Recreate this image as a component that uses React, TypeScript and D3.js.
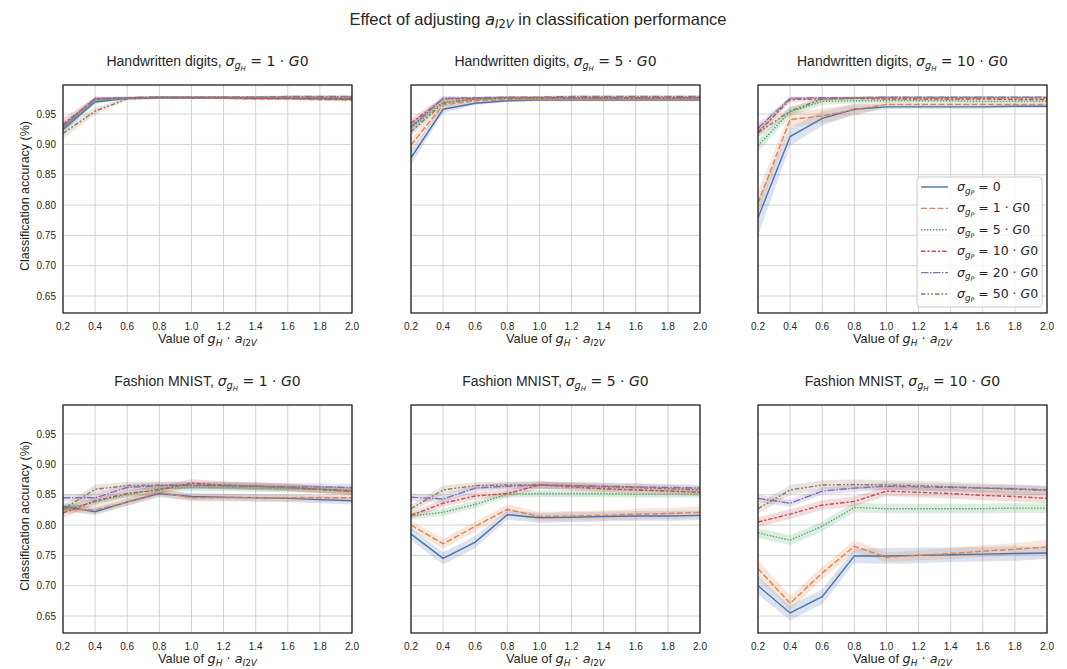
import * as d3 from "d3";
import { useEffect, useRef } from "react";

// x: value of g_H * a_I2V
const xValues = [0.2, 0.4, 0.6, 0.8, 1.0, 1.2, 1.4, 1.6, 1.8, 2.0];
const xTicks = [0.2, 0.4, 0.6, 0.8, 1.0, 1.2, 1.4, 1.6, 1.8, 2.0];
const yTicks = [0.65, 0.7, 0.75, 0.8, 0.85, 0.9, 0.95];
// sigma_gP levels (legend), same order as the series rows below
const gpLevels = ["0", "1", "5", "10", "20", "50"];
const colors = ["#4c72b0", "#dd8452", "#55a868", "#c44e52", "#8172b3", "#937860"];
const dashes = ["", "6,2.25", "1.5,1.5", "4.5,1.9,2.25,1.9", "7.5,1.5,1.5,1.5", "4.5,1.9,1.9,1.9,1.9,1.9"];

// Handwritten digits, sigma_gH = 1 G0
const hd1Mean = [
  [0.925, 0.970, 0.976, 0.977, 0.977, 0.977, 0.976, 0.976, 0.976, 0.975],
  [0.928, 0.974, 0.976, 0.977, 0.977, 0.976, 0.975, 0.975, 0.974, 0.973],
  [0.927, 0.972, 0.976, 0.977, 0.977, 0.977, 0.977, 0.976, 0.976, 0.976],
  [0.933, 0.975, 0.977, 0.978, 0.977, 0.977, 0.976, 0.976, 0.975, 0.975],
  [0.930, 0.976, 0.977, 0.978, 0.978, 0.978, 0.978, 0.979, 0.979, 0.979],
  [0.918, 0.955, 0.975, 0.977, 0.978, 0.978, 0.978, 0.978, 0.978, 0.978],
];
const hd1Ci = [
  [0.006, 0.003, 0.002, 0.002, 0.002, 0.002, 0.002, 0.002, 0.002, 0.002],
  [0.006, 0.003, 0.002, 0.002, 0.002, 0.002, 0.002, 0.002, 0.002, 0.002],
  [0.006, 0.003, 0.002, 0.002, 0.002, 0.002, 0.002, 0.002, 0.002, 0.002],
  [0.010, 0.003, 0.002, 0.002, 0.002, 0.002, 0.002, 0.002, 0.002, 0.002],
  [0.007, 0.003, 0.002, 0.002, 0.002, 0.002, 0.002, 0.002, 0.002, 0.002],
  [0.008, 0.006, 0.002, 0.002, 0.002, 0.002, 0.002, 0.002, 0.002, 0.002],
];

// Handwritten digits, sigma_gH = 5 G0
const hd5Mean = [
  [0.878, 0.958, 0.968, 0.972, 0.973, 0.973, 0.973, 0.973, 0.973, 0.973],
  [0.899, 0.965, 0.972, 0.974, 0.974, 0.974, 0.974, 0.974, 0.974, 0.974],
  [0.927, 0.970, 0.974, 0.976, 0.976, 0.976, 0.976, 0.976, 0.976, 0.976],
  [0.935, 0.975, 0.976, 0.977, 0.977, 0.977, 0.977, 0.977, 0.977, 0.977],
  [0.929, 0.976, 0.977, 0.978, 0.978, 0.979, 0.979, 0.979, 0.979, 0.979],
  [0.921, 0.968, 0.975, 0.977, 0.977, 0.977, 0.977, 0.977, 0.977, 0.977],
];
const hd5Ci = [
  [0.012, 0.006, 0.003, 0.002, 0.002, 0.002, 0.002, 0.002, 0.002, 0.002],
  [0.010, 0.005, 0.003, 0.002, 0.002, 0.002, 0.002, 0.002, 0.002, 0.002],
  [0.008, 0.004, 0.002, 0.002, 0.002, 0.002, 0.002, 0.002, 0.002, 0.002],
  [0.008, 0.004, 0.002, 0.002, 0.002, 0.002, 0.002, 0.002, 0.002, 0.002],
  [0.008, 0.004, 0.002, 0.002, 0.002, 0.002, 0.002, 0.002, 0.002, 0.002],
  [0.008, 0.004, 0.002, 0.002, 0.002, 0.002, 0.002, 0.002, 0.002, 0.002],
];

// Handwritten digits, sigma_gH = 10 G0
const hd10Mean = [
  [0.779, 0.913, 0.943, 0.958, 0.962, 0.962, 0.962, 0.962, 0.963, 0.963],
  [0.803, 0.941, 0.947, 0.957, 0.966, 0.966, 0.966, 0.966, 0.966, 0.966],
  [0.898, 0.954, 0.971, 0.972, 0.972, 0.972, 0.972, 0.971, 0.971, 0.971],
  [0.920, 0.974, 0.975, 0.976, 0.975, 0.975, 0.975, 0.975, 0.974, 0.974],
  [0.927, 0.976, 0.977, 0.977, 0.978, 0.978, 0.978, 0.978, 0.978, 0.978],
  [0.919, 0.955, 0.975, 0.977, 0.977, 0.977, 0.977, 0.977, 0.977, 0.977],
];
const hd10Ci = [
  [0.030, 0.015, 0.012, 0.008, 0.004, 0.003, 0.003, 0.003, 0.003, 0.003],
  [0.020, 0.012, 0.012, 0.010, 0.004, 0.003, 0.003, 0.003, 0.003, 0.003],
  [0.010, 0.008, 0.006, 0.004, 0.003, 0.003, 0.003, 0.003, 0.003, 0.003],
  [0.008, 0.004, 0.003, 0.002, 0.002, 0.002, 0.002, 0.002, 0.002, 0.002],
  [0.008, 0.003, 0.002, 0.002, 0.002, 0.002, 0.002, 0.002, 0.002, 0.002],
  [0.008, 0.006, 0.003, 0.002, 0.002, 0.002, 0.002, 0.002, 0.002, 0.002],
];

// Fashion MNIST, sigma_gH = 1 G0
const fm1Mean = [
  [0.831, 0.822, 0.838, 0.852, 0.847, 0.846, 0.845, 0.844, 0.842, 0.840],
  [0.826, 0.825, 0.838, 0.854, 0.845, 0.845, 0.845, 0.845, 0.845, 0.845],
  [0.826, 0.838, 0.850, 0.860, 0.862, 0.862, 0.861, 0.860, 0.859, 0.857],
  [0.820, 0.840, 0.852, 0.858, 0.869, 0.866, 0.864, 0.862, 0.859, 0.856],
  [0.845, 0.845, 0.862, 0.865, 0.865, 0.865, 0.864, 0.863, 0.863, 0.862],
  [0.826, 0.859, 0.865, 0.866, 0.866, 0.865, 0.864, 0.862, 0.859, 0.855],
];
const fm1Ci = [
  [0.006, 0.006, 0.006, 0.006, 0.006, 0.006, 0.006, 0.006, 0.006, 0.006],
  [0.006, 0.006, 0.006, 0.006, 0.006, 0.006, 0.006, 0.006, 0.006, 0.006],
  [0.006, 0.006, 0.006, 0.006, 0.006, 0.006, 0.006, 0.006, 0.006, 0.006],
  [0.008, 0.006, 0.006, 0.006, 0.007, 0.006, 0.006, 0.006, 0.006, 0.006],
  [0.006, 0.006, 0.006, 0.006, 0.006, 0.006, 0.006, 0.006, 0.006, 0.006],
  [0.006, 0.008, 0.006, 0.006, 0.006, 0.006, 0.006, 0.006, 0.006, 0.006],
];

// Fashion MNIST, sigma_gH = 5 G0
const fm5Mean = [
  [0.785, 0.745, 0.772, 0.817, 0.812, 0.813, 0.814, 0.815, 0.815, 0.816],
  [0.800, 0.769, 0.798, 0.826, 0.814, 0.815, 0.816, 0.818, 0.819, 0.821],
  [0.815, 0.821, 0.834, 0.851, 0.852, 0.852, 0.852, 0.851, 0.851, 0.851],
  [0.816, 0.836, 0.848, 0.852, 0.866, 0.863, 0.860, 0.858, 0.856, 0.854],
  [0.846, 0.843, 0.861, 0.864, 0.866, 0.865, 0.864, 0.863, 0.862, 0.861],
  [0.827, 0.858, 0.865, 0.866, 0.866, 0.865, 0.863, 0.862, 0.860, 0.858],
];
const fm5Ci = [
  [0.010, 0.010, 0.010, 0.008, 0.008, 0.008, 0.008, 0.008, 0.008, 0.008],
  [0.008, 0.008, 0.008, 0.008, 0.008, 0.008, 0.008, 0.009, 0.009, 0.010],
  [0.006, 0.006, 0.006, 0.006, 0.006, 0.006, 0.006, 0.006, 0.006, 0.006],
  [0.006, 0.006, 0.006, 0.006, 0.006, 0.006, 0.006, 0.006, 0.006, 0.006],
  [0.006, 0.006, 0.006, 0.006, 0.006, 0.006, 0.006, 0.006, 0.006, 0.006],
  [0.006, 0.007, 0.006, 0.006, 0.006, 0.006, 0.006, 0.006, 0.006, 0.006],
];

// Fashion MNIST, sigma_gH = 10 G0
const fm10Mean = [
  [0.700, 0.655, 0.682, 0.749, 0.749, 0.750, 0.751, 0.752, 0.753, 0.754],
  [0.728, 0.671, 0.721, 0.765, 0.747, 0.750, 0.753, 0.757, 0.760, 0.764],
  [0.787, 0.775, 0.798, 0.829, 0.827, 0.827, 0.827, 0.827, 0.828, 0.828],
  [0.805, 0.818, 0.833, 0.839, 0.856, 0.854, 0.852, 0.849, 0.847, 0.844],
  [0.844, 0.836, 0.856, 0.861, 0.864, 0.863, 0.862, 0.861, 0.860, 0.858],
  [0.827, 0.858, 0.866, 0.867, 0.866, 0.865, 0.863, 0.861, 0.859, 0.857],
];
const fm10Ci = [
  [0.015, 0.012, 0.012, 0.012, 0.013, 0.013, 0.012, 0.012, 0.012, 0.010],
  [0.015, 0.012, 0.010, 0.010, 0.008, 0.008, 0.009, 0.010, 0.010, 0.012],
  [0.008, 0.008, 0.008, 0.008, 0.008, 0.008, 0.008, 0.008, 0.008, 0.008],
  [0.008, 0.008, 0.008, 0.008, 0.008, 0.008, 0.008, 0.008, 0.008, 0.008],
  [0.006, 0.006, 0.006, 0.006, 0.006, 0.006, 0.006, 0.006, 0.006, 0.006],
  [0.008, 0.008, 0.008, 0.008, 0.008, 0.008, 0.008, 0.008, 0.008, 0.008],
];

const panels = [
  { name: "Handwritten digits", gH: "1", mean: hd1Mean, ci: hd1Ci },
  { name: "Handwritten digits", gH: "5", mean: hd5Mean, ci: hd5Ci },
  { name: "Handwritten digits", gH: "10", mean: hd10Mean, ci: hd10Ci },
  { name: "Fashion MNIST", gH: "1", mean: fm1Mean, ci: fm1Ci },
  { name: "Fashion MNIST", gH: "5", mean: fm5Mean, ci: fm5Ci },
  { name: "Fashion MNIST", gH: "10", mean: fm10Mean, ci: fm10Ci },
];

const SANS = "'Liberation Sans', Arial, sans-serif";
const MATH = "'DejaVu Sans', sans-serif";
const TEXT_COLOR = "#262626";

// parts: [text, kind] kind: t=plain text, u=math upright, i=math italic,
// s=subscript italic, s0=subscript upright, S=sub-subscript italic
const mathText = (sel: any, parts: [string, string][], size: number) => {
  let shift = 0;
  parts.forEach(([t, k]) => {
    const lvl = k === "S" ? 2 : k === "s" || k === "s0" ? 1 : 0;
    const target = lvl === 0 ? 0 : lvl === 1 ? size * 0.2 : size * 0.34;
    const fs = lvl === 0 ? size : lvl === 1 ? size * 0.7 : size * 0.5;
    const ts = sel
      .append("tspan")
      .attr("font-size", fs)
      .attr("dy", target - shift)
      .text(t);
    shift = target;
    if (k === "t") ts.attr("font-family", SANS);
    else
      ts.attr("font-family", MATH).attr(
        "font-style",
        k === "u" || k === "s0" ? "normal" : "italic"
      );
  });
};

const App = () => {
  const svgRef = useRef(null);

  useEffect(() => {
    const svg = d3.select(svgRef.current);
    svg.selectAll("*").remove();

    const lefts = [63, 411, 758];
    const tops = [85, 405];
    const w = 289;
    const h = 228;

    const x = d3.scaleLinear().domain([0.2, 2.0]).range([0, w]);
    const y = d3.scaleLinear().domain([0.622, 0.998]).range([h, 0]);

    // main title
    const mt = svg
      .append("text")
      .attr("x", 538)
      .attr("y", 25)
      .attr("text-anchor", "middle")
      .attr("fill", TEXT_COLOR)
      .style("white-space", "pre");
    mathText(
      mt,
      [
        ["Effect of adjusting ", "t"],
        ["a", "i"],
        ["I", "s"],
        ["2", "s0"],
        ["V", "s"],
        [" in classification performance", "t"],
      ],
      16.5
    );

    panels.forEach((p, pi) => {
      const col = pi % 3;
      const row = Math.floor(pi / 3);
      const g = svg
        .append("g")
        .attr("transform", `translate(${lefts[col]}, ${tops[row]})`);

      const clipId = `clip-${pi}`;
      g.append("clipPath")
        .attr("id", clipId)
        .append("rect")
        .attr("width", w)
        .attr("height", h);

      // grid
      g.selectAll(".vg")
        .data(xTicks)
        .enter()
        .append("line")
        .attr("x1", (d) => x(d))
        .attr("x2", (d) => x(d))
        .attr("y1", 0)
        .attr("y2", h)
        .attr("stroke", "#d3d3d3")
        .attr("stroke-width", 1);
      g.selectAll(".hg")
        .data(yTicks)
        .enter()
        .append("line")
        .attr("x1", 0)
        .attr("x2", w)
        .attr("y1", (d) => y(d))
        .attr("y2", (d) => y(d))
        .attr("stroke", "#d3d3d3")
        .attr("stroke-width", 1);

      const plot = g.append("g").attr("clip-path", `url(#${clipId})`);

      p.mean.forEach((m, si) => {
        const band = d3
          .area<number>()
          .x((_, i) => x(xValues[i]))
          .y0((d, i) => y(d - p.ci[si][i]))
          .y1((d, i) => y(d + p.ci[si][i]));
        plot
          .append("path")
          .attr("d", band(m))
          .attr("fill", colors[si])
          .attr("fill-opacity", 0.2)
          .attr("stroke", "none");
      });

      const line = d3
        .line<number>()
        .x((_, i) => x(xValues[i]))
        .y((d) => y(d));
      p.mean.forEach((m, si) => {
        plot
          .append("path")
          .attr("d", line(m))
          .attr("fill", "none")
          .attr("stroke", colors[si])
          .attr("stroke-width", 1.4)
          .attr("stroke-dasharray", dashes[si] || null);
      });

      // frame
      g.append("rect")
        .attr("width", w)
        .attr("height", h)
        .attr("fill", "none")
        .attr("stroke", "#1a1a1a")
        .attr("stroke-width", 1.25);

      // x tick labels
      g.selectAll(".xt")
        .data(xTicks)
        .enter()
        .append("text")
        .attr("x", (d) => x(d))
        .attr("y", h + 17)
        .attr("text-anchor", "middle")
        .attr("font-family", SANS)
        .attr("font-size", 10)
        .attr("fill", TEXT_COLOR)
        .text((d) => d3.format(".1f")(d));

      // x label
      const xl = g
        .append("text")
        .attr("x", w / 2)
        .attr("y", h + 30)
        .attr("text-anchor", "middle")
        .attr("fill", TEXT_COLOR)
        .style("white-space", "pre");
      mathText(
        xl,
        [
          ["Value of ", "t"],
          ["g", "i"],
          ["H", "s"],
          [" · ", "u"],
          ["a", "i"],
          ["I", "s"],
          ["2", "s0"],
          ["V", "s"],
        ],
        12.8
      );

      if (col === 0) {
        g.selectAll(".yt")
          .data(yTicks)
          .enter()
          .append("text")
          .attr("x", -7)
          .attr("y", (d) => y(d) + 3.5)
          .attr("text-anchor", "end")
          .attr("font-family", SANS)
          .attr("font-size", 10)
          .attr("fill", TEXT_COLOR)
          .text((d) => d3.format(".2f")(d));
        g.append("text")
          .attr("transform", `translate(-34, ${h / 2 - 3}) rotate(-90)`)
          .attr("text-anchor", "middle")
          .attr("font-family", SANS)
          .attr("font-size", 12.5)
          .attr("fill", TEXT_COLOR)
          .text("Classification accuracy (%)");
      }

      // panel title
      const tt = g
        .append("text")
        .attr("x", w / 2)
        .attr("y", -19)
        .attr("text-anchor", "middle")
        .attr("fill", TEXT_COLOR)
        .style("white-space", "pre");
      mathText(
        tt,
        [
          [p.name + ", ", "t"],
          ["σ", "i"],
          ["g", "s"],
          ["H", "S"],
          [` = ${p.gH} · `, "u"],
          ["G", "i"],
          ["0", "u"],
        ],
        14
      );

      // legend in the top-right panel
      if (pi === 2) {
        const lg = g.append("g").attr("transform", `translate(${w - 130}, ${92})`);
        lg.append("rect")
          .attr("width", 125)
          .attr("height", 130)
          .attr("rx", 3)
          .attr("fill", "white")
          .attr("fill-opacity", 0.8)
          .attr("stroke", "#cccccc")
          .attr("stroke-width", 1);
        gpLevels.forEach((lv, si) => {
          const yy = 10 + si * 21.4;
          lg.append("line")
            .attr("x1", 4)
            .attr("x2", 31)
            .attr("y1", yy)
            .attr("y2", yy)
            .attr("stroke", colors[si])
            .attr("stroke-width", 1.4)
            .attr("stroke-dasharray", dashes[si] || null);
          const lt = lg
            .append("text")
            .attr("x", 40)
            .attr("y", yy + 4)
            .attr("fill", TEXT_COLOR)
            .style("white-space", "pre");
          const parts: [string, string][] =
            lv === "0"
              ? [
                  ["σ", "i"],
                  ["g", "s"],
                  ["P", "S"],
                  [" = 0", "u"],
                ]
              : [
                  ["σ", "i"],
                  ["g", "s"],
                  ["P", "S"],
                  [` = ${lv} · `, "u"],
                  ["G", "i"],
                  ["0", "u"],
                ];
          mathText(lt, parts, 12.5);
        });
      }
    });
  }, []);

  return (
    <div>
      <svg
        ref={svgRef}
        width={1067}
        height={669}
        style={{ position: "absolute", left: 0, top: 0, background: "white" }}
      ></svg>
    </div>
  );
};

export default App;
